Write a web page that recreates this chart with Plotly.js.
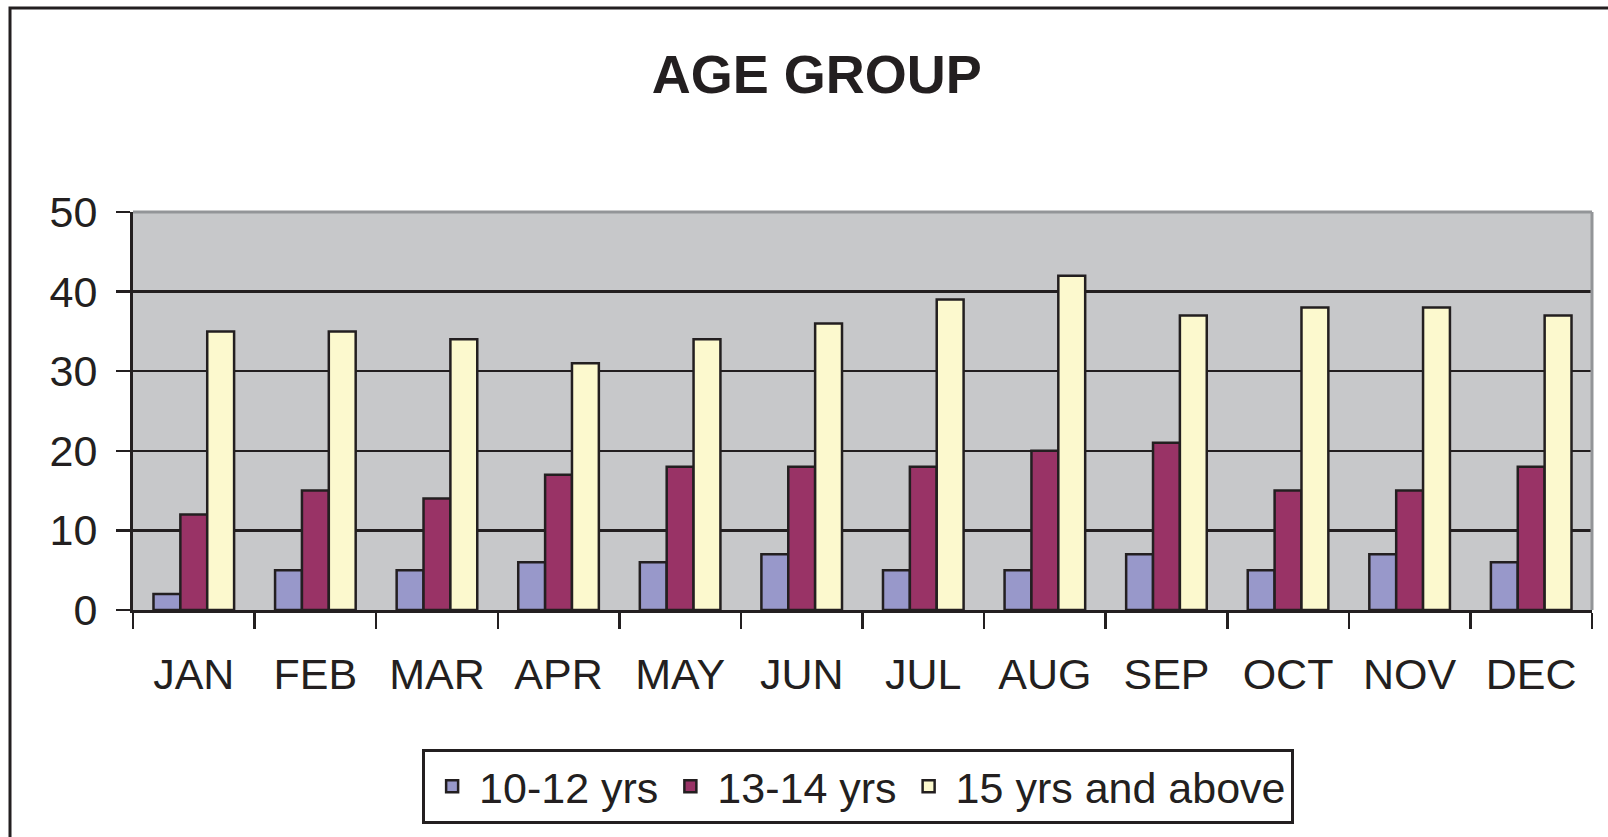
<!DOCTYPE html>
<html>
<head>
<meta charset="utf-8">
<script src="https://cdn.plot.ly/plotly-3.0.1.min.js"></script>
<style>
html,body{margin:0;padding:0;background:#fff;}
#chart{width:1608px;height:837px;}
</style>
</head>
<body>
<div id="chart"></div>
<script>
var months = ['JAN','FEB','MAR','APR','MAY','JUN','JUL','AUG','SEP','OCT','NOV','DEC'];
var seriesNames = ['10-12 yrs','13-14 yrs','15 yrs and above'];
var age10to12 = [2,5,5,6,6,7,5,5,7,5,7,6];
var age13to14 = [12,15,14,17,18,18,18,20,21,15,15,18];
var age15plus = [35,35,34,31,34,36,39,42,37,38,38,37];
var seriesColors = ['#9898CA','#993366','#FCF9CE'];

var ink = '#231F20';
var fontFam = 'Liberation Sans, Arial, Helvetica, sans-serif';
var allValues = [age10to12, age13to14, age15plus];

var traces = allValues.map(function(vals, i){
  return {
    type: 'bar',
    x: months,
    y: vals,
    name: seriesNames[i],
    marker: {color: seriesColors[i], line: {color: ink, width: 2.5}},
    hoverinfo: 'x+y+name'
  };
});

var layout = {
  width: 1608,
  height: 837,
  margin: {l: 133, r: 16, t: 212, b: 227, pad: 0},
  paper_bgcolor: '#ffffff',
  plot_bgcolor: '#C7C8CA',
  font: {family: fontFam, color: ink, size: 42},
  title: {
    text: 'AGE GROUP',
    font: {family: fontFam, size: 54, color: ink, weight: 'bold'},
    x: 0.508, xref: 'container', xanchor: 'center',
    y: 0.9116, yref: 'container', yanchor: 'middle'
  },
  barmode: 'group',
  bargap: 0.337,
  bargroupgap: 0,
  xaxis: {
    type: 'category',
    tickson: 'boundaries',
    ticks: 'outside',
    ticklen: 16,
    tickwidth: 2.5,
    tickcolor: ink,
    showline: true,
    linecolor: ink,
    linewidth: 3,
    showgrid: false,
    zeroline: false,
    tickfont: {size: 43, color: ink, family: fontFam},
    ticklabelstandoff: 24
  },
  yaxis: {
    range: [0, 50],
    dtick: 10,
    tick0: 0,
    ticks: 'outside',
    ticklen: 14,
    tickwidth: 2.5,
    tickcolor: ink,
    showline: true,
    linecolor: ink,
    linewidth: 3,
    showgrid: true,
    gridcolor: ink,
    gridwidth: 2.5,
    zeroline: false,
    tickfont: {size: 43, color: ink, family: fontFam},
    ticklabelstandoff: 10
  },
  showlegend: true,
  legend: {
    orientation: 'h',
    x: 0.497, xanchor: 'center',
    y: -0.349, yanchor: 'top',
    bgcolor: '#ffffff',
    bordercolor: ink,
    borderwidth: 3,
    itemwidth: 44,
    font: {size: 43, color: ink, family: fontFam},
    traceorder: 'normal'
  },
  shapes: [
    {type: 'line', xref: 'paper', yref: 'paper', x0: 0, x1: 1, y0: 1, y1: 1,
     line: {color: '#939598', width: 3}, layer: 'above'},
    {type: 'line', xref: 'paper', yref: 'paper', x0: 1, x1: 1, y0: 0, y1: 1,
     line: {color: '#939598', width: 3}, layer: 'above'},
    {type: 'rect', xref: 'paper', yref: 'paper', x0: -0.0843, x1: 1.03, y0: -0.65, y1: 1.5126,
     line: {color: ink, width: 3}, fillcolor: 'rgba(0,0,0,0)', layer: 'below'}
  ]
};

Plotly.newPlot('chart', traces, layout, {displayModeBar: false, staticPlot: true});
</script>
</body>
</html>
